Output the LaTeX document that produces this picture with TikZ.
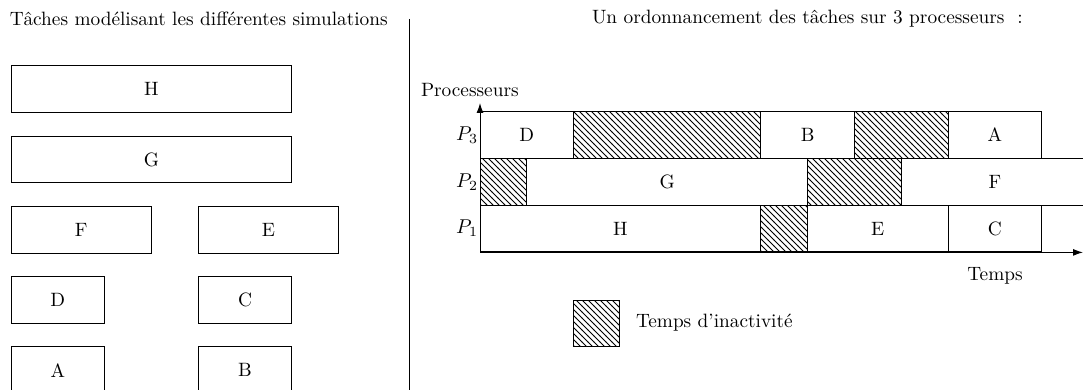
\documentclass[tikz,border=0pt]{standalone}
\usetikzlibrary{patterns,arrows.meta}
\begin{document}
\begin{tikzpicture}[x=0.5pt,y=-0.5pt,
  every node/.style={font=\fontsize{9.65pt}{11.6pt}\selectfont},
  box/.style={draw, line width=0.5pt, inner sep=0pt, outer sep=0pt, anchor=north west,
    minimum height=23.4pt},
  w/.style={minimum width=#1*23.4pt},
  idle/.style={box, pattern=north west lines},
  lbl/.style={inner sep=0pt, outer sep=0pt},
  axis/.style={line width=0.5pt, -{Latex[length=5pt,width=3.5pt]}}]
\useasboundingbox (0,0) rectangle (1083,390);
% titles
\node[lbl, anchor=base west] (t1) at (10,26) {Tâches modélisant les différentes simulations};
\node[lbl, anchor=base west] (t2) at (592,24) {Un ordonnancement des tâches sur 3 processeurs\ \ :};
% divider
\coordinate (d1) at (409,19);
\coordinate (d2) at (409,395);
\draw[line width=0.5pt] (d1) -- (d2);
% left tasks
\node[box,w=6] (H) at (11,66) {H};
\node[box,w=6] (G) at (11,136.2) {G};
\node[box,w=3] (F) at (11,206.4) {F};
\node[box,w=3] (E) at (198.2,206.4) {E};
\node[box,w=2] (D) at (11,276.6) {D};
\node[box,w=2] (C) at (198.2,276.6) {C};
\node[box,w=2] (A) at (11,346.8) {A};
\node[box,w=2] (B) at (198.2,346.8) {B};
% Gantt: origin (480,252.4), unit 46.8
% P3 row top 111.6
\node[box,w=2] (gD) at (480,111.6) {D};
\node[idle,w=4] (i31) at (573.6,111.6) {};
\node[box,w=2] (gB) at (760.8,111.6) {B};
\node[idle,w=2] (i32) at (854.4,111.6) {};
\node[box,w=2] (gA) at (948,111.6) {A};
% P2 row top 158.4
\node[idle,w=1] (i21) at (480,158.4) {};
\node[box,w=6] (gG) at (526.8,158.4) {G};
\node[idle,w=2] (i22) at (807.6,158.4) {};
\node[box,w=4] (gF) at (901.2,158.4) {F};
% P1 row top 205.2
\node[box,w=6] (gH) at (480,205.2) {H};
\node[idle,w=1] (i11) at (760.8,205.2) {};
\node[box,w=3] (gE) at (807.6,205.2) {E};
\node[box,w=2] (gC) at (948,205.2) {C};
% axes
\coordinate (O) at (480,252.4);
\coordinate (Xend) at (1083,252.4);
\coordinate (Yend) at (480,103);
\draw[axis] (O) -- (Xend);
\draw[axis] (O) -- (Yend);
\node[lbl, anchor=east] (p3) at (478,135) {$P_3$};
\node[lbl, anchor=east] (p2) at (478,181.8) {$P_2$};
\node[lbl, anchor=east] (p1) at (478,228.6) {$P_1$};
\node[lbl, anchor=west] (yl) at (421,90) {Processeurs};
\node[lbl] (xl) at (995,276) {Temps};
% legend
\node[idle,w=1] (leg) at (573,300) {};
\node[lbl, anchor=west] (legt) at (636,323) {Temps d'inactivité};
\end{tikzpicture}
\end{document}
